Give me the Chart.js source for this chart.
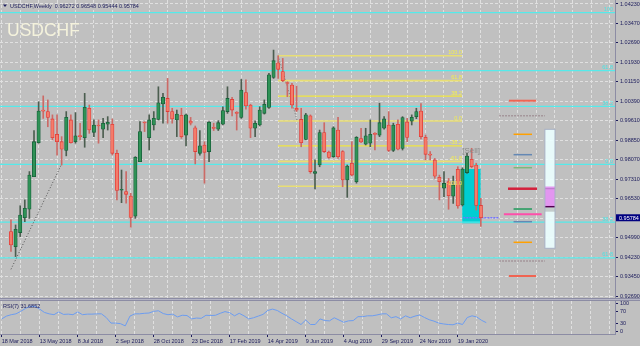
<!DOCTYPE html>
<html>
<head>
<meta charset="utf-8">
<script src="https://cdn.jsdelivr.net/npm/chart.js@4.4.1/dist/chart.umd.min.js"></script>
<style>
  html, body { margin: 0; padding: 0; background: #c0c0c0; }
  #wrap { width: 640px; height: 346px; overflow: hidden; }
  canvas { display: block; }
  .sep { height: 3px; box-sizing: border-box; background: #b4b4c4; border-top: 1px solid #8c8ca4; border-bottom: 1px solid #8c8ca4; }
</style>
</head>
<body>
<div id="wrap">
  <canvas id="price" width="640" height="298"></canvas>
  <div class="sep"></div>
  <canvas id="rsi" width="640" height="45"></canvas>
</div>
<script>
// weekly bars, first one is 18 Mar 2018
const dateLabels = ['18 Mar 2018', '13 May 2018', '8 Jul 2018', '2 Sep 2018', '28 Oct 2018', '23 Dec 2018',
  '17 Feb 2019', '14 Apr 2019', '9 Jun 2019', '4 Aug 2019', '29 Sep 2019', '24 Nov 2019', '19 Jan 2020'];

const opens = [0.9524, 0.9464, 0.9520, 0.9579, 0.9612, 0.9741, 0.9875, 1.0002, 0.9998, 0.9969,
  0.9908, 0.9879, 0.9844, 0.9965, 0.9879, 0.9902, 0.9895, 1.0011, 0.9916, 0.9942,
  0.9928, 0.9948, 0.9948, 0.9833, 0.9687, 0.9682, 0.9664, 0.9585, 0.9800, 0.9956,
  0.9895, 0.9945, 0.9967, 1.0028, 1.0050, 0.9998, 0.9965, 0.9983, 0.9905, 0.9961,
  0.9934, 0.9833, 0.9866, 0.9840, 0.9936, 0.9928, 0.9948, 0.9998, 1.0046, 0.9994,
  0.9975, 1.0073, 1.0024, 0.9932, 0.9945, 0.9991, 1.0014, 1.0133, 1.0191, 1.0156,
  1.0110, 1.0103, 1.0011, 0.9967, 0.9888, 0.9981, 0.9754, 0.9787, 0.9915, 0.9838,
  0.9820, 0.9925, 0.9840, 0.9728, 0.9794, 0.9721, 0.9891, 0.9869, 0.9873, 0.9909,
  0.9905, 0.9932, 0.9945, 0.9844, 0.9948, 0.9852, 0.9957, 0.9960, 0.9978, 1.0000,
  0.9896, 0.9830, 0.9807, 0.9738, 0.9695, 0.9721, 0.9664, 0.9770, 0.9629, 0.9757,
  0.9809, 0.9787, 0.96272];
const highs = [0.9570, 0.9550, 0.9626, 0.9649, 0.9761, 0.9923, 1.0037, 1.0060, 1.0044, 0.9985,
  0.9985, 0.9899, 0.9998, 0.9985, 0.9994, 0.9952, 1.0070, 1.0024, 0.9965, 0.9965,
  0.9971, 0.9978, 0.9969, 0.9846, 0.9767, 0.9761, 0.9675, 0.9820, 0.9958, 0.9958,
  0.9985, 0.9998, 1.0096, 1.0070, 1.0129, 1.0011, 1.0004, 1.0011, 0.9988, 0.9975,
  0.9941, 0.9923, 0.9879, 0.9958, 0.9952, 0.9962, 1.0017, 1.0096, 1.0054, 0.9998,
  1.0125, 1.0123, 1.0027, 0.9961, 1.0017, 1.0044, 1.0149, 1.0241, 1.0218, 1.0208,
  1.0116, 1.0110, 1.0099, 1.0011, 0.9991, 0.9985, 0.9807, 0.9925, 0.9954, 0.9842,
  0.9938, 0.9975, 0.9844, 0.9787, 0.9879, 0.9899, 0.9932, 0.9932, 0.9965, 0.9915,
  1.0031, 0.9978, 0.9998, 0.9952, 0.9965, 0.9978, 0.9971, 0.9985, 1.0011, 1.0030,
  0.9905, 0.9840, 0.9813, 0.9747, 0.9761, 0.9734, 0.9743, 0.9780, 0.9776, 0.9833,
  0.9853, 0.9794, 0.96548];
const lows = [0.9445, 0.9425, 0.9504, 0.9563, 0.9576, 0.9741, 0.9873, 0.9971, 0.9938, 0.9886,
  0.9826, 0.9787, 0.9823, 0.9873, 0.9873, 0.9886, 0.9857, 0.9912, 0.9899, 0.9873,
  0.9895, 0.9925, 0.9826, 0.9649, 0.9638, 0.9636, 0.9541, 0.9576, 0.9800, 0.9919,
  0.9846, 0.9925, 0.9965, 0.9952, 0.9952, 0.9952, 0.9899, 0.9892, 0.9862, 0.9945,
  0.9791, 0.9826, 0.9715, 0.9800, 0.9923, 0.9923, 0.9945, 0.9991, 0.9981, 0.9925,
  0.9971, 1.0007, 0.9895, 0.9899, 0.9941, 0.9988, 1.0010, 1.0129, 1.0129, 1.0116,
  1.0057, 1.0011, 0.9998, 0.9859, 0.9886, 0.9754, 0.9692, 0.9780, 0.9836, 0.9813,
  0.9817, 0.9813, 0.9701, 0.9659, 0.9744, 0.9715, 0.9875, 0.9866, 0.9859, 0.9846,
  0.9899, 0.9928, 0.9840, 0.9840, 0.9846, 0.9846, 0.9879, 0.9945, 0.9970, 0.9890,
  0.9807, 0.9807, 0.9734, 0.9649, 0.9662, 0.9612, 0.9635, 0.9616, 0.9625, 0.9754,
  0.9776, 0.9609, 0.95444];
const closes = [0.9471, 0.9533, 0.9589, 0.9616, 0.9747, 0.9879, 1.0000, 1.0000, 0.9975, 0.9895,
  0.9879, 0.9849, 0.9975, 0.9875, 0.9902, 0.9899, 1.0015, 0.9925, 0.9945, 0.9941,
  0.9952, 0.9956, 0.9833, 0.9686, 0.9688, 0.9671, 0.9580, 0.9817, 0.9919, 0.9953,
  0.9965, 0.9971, 1.0033, 1.0054, 0.9998, 0.9969, 0.9988, 0.9899, 0.9985, 0.9952,
  0.9840, 0.9863, 0.9837, 0.9956, 0.9931, 0.9954, 1.0002, 1.0050, 1.0004, 0.9991,
  1.0083, 1.0020, 0.9932, 0.9952, 1.0004, 1.0027, 1.0143, 1.0199, 1.0165, 1.0120,
  1.0109, 1.0024, 1.0004, 0.9875, 0.9985, 0.9761, 0.9761, 0.9915, 0.9840, 0.9817,
  0.9934, 0.9820, 0.9728, 0.9783, 0.9747, 0.9896, 0.9878, 0.9902, 0.9908, 0.9908,
  0.9954, 0.9969, 0.9844, 0.9945, 0.9849, 0.9974, 0.9896, 0.9975, 0.9998, 0.9899,
  0.9829, 0.9826, 0.9743, 0.9721, 0.9714, 0.9666, 0.9708, 0.9625, 0.9771, 0.9822,
  0.9780, 0.9627, 0.95784];

const rsi7 = [45, 55, 60, 63, 72, 82, 90, 90, 80, 68, 63, 60, 70, 61, 62, 60, 70, 60, 62, 62,
  63, 63, 50, 30, 30, 28, 20, 55, 63, 63, 65, 66, 72, 74, 64, 60, 62, 52, 58, 57,
  45, 48, 47, 58, 57, 58, 65, 71, 67, 56, 65, 56, 45, 49, 55, 61, 75, 80, 75, 65,
  56, 45, 35, 25, 41, 25, 25, 45, 39, 38, 49, 41, 33, 38, 39, 53, 53, 56, 56, 59,
  63, 63, 49, 53, 45, 56, 49, 55, 59, 50, 42, 37, 30, 27, 25, 24, 30, 25, 50, 56,
  52, 40, 31.6852];

const priceTickLabels = ['1.04230', '1.03470', '1.02690', '1.01930', '1.01150', '1.00390', '0.99610', '0.98850',
  '0.98070', '0.97310', '0.96530', '0.95750', '0.94990', '0.94230', '0.93450', '0.92690'];
const rsiTicks = [0, 30, 70, 100];

// fibo expansion (cyan, full width) and fibo retracement (yellow)
const expansionLabels = ['100', '61.8', '38.2', '0.0', '38.2', '61.8'];
const expansionPrices = [1.03886, 1.01598, 1.00185, 0.97897, 0.95609, 0.94196];
const expansionTrend = [0.93748, 0.97908];
const retraceLabels = ['100.0', '61.8', '38.2', '0.0', '-38.2', '-61.8', '-100.0'];
const retracePrices = [1.02187, 1.01201, 1.00593, 0.99607, 0.98621, 0.98013, 0.97027];
const retraceTrend = [1.02187, 0.99647];

// indicator levels drawn right of the last bar
const pivotPrices = [1.00409, 0.99817, 0.99082, 0.98276, 0.97762, 0.96932, 0.96130, 0.95921, 0.95629, 0.94815, 0.94076, 0.93483];
const pivotKinds = ['red', 'dots', 'orange', 'blue', 'pale', 'main', 'green', 'pink', 'blue', 'orange', 'dots', 'red'];
const signalBox = [0.97711, 0.95566];
const panelBox = [0.99279, 0.94578];
const panelZone = [0.97019, 0.96221];
const panelBand = [0.96197, 0.96024];

const weeks = opens.map((_, i) => i);
const last = weeks.length - 1;
const bull = weeks.map(i => closes[i] >= opens[i]);

const NAVY = '#1c1c5c';
const FONT = "'Liberation Sans', Arial, sans-serif";
Chart.defaults.font.family = FONT;
Chart.defaults.font.size = 5.5;
Chart.defaults.color = NAVY;
Chart.defaults.animation = false;

const xMin = -0.36, xMax = 129.1;
const gridWeeks = [];
for (let w = 0; w <= 128; w += 4) gridWeeks.push(w);
const isLabelWeek = v => v % 8 === 0 && v / 8 < dateLabels.length;

const pivotStyle = {
  red: { color: '#f06452', width: 2, from: 108.1, to: 114.0 },
  dots: { color: '#9c8a90', width: 1.5, from: 106.0, to: 115.9, dash: [1.5, 1.5] },
  orange: { color: '#ffa000', width: 1.5, from: 109.1, to: 113.1 },
  blue: { color: '#6488b4', width: 1.5, from: 109.1, to: 113.1 },
  pale: { color: '#7cb87c', width: 1.5, from: 109.1, to: 113.1 },
  main: { color: '#d4203c', width: 2.5, from: 107.9, to: 114.2 },
  green: { color: '#1e9a5a', width: 1.5, from: 109.1, to: 113.1 },
  pink: { color: '#ff4eaa', width: 2, from: 107.0, to: 115.2 },
};

const mtObjects = {
  id: 'mtObjects',
  beforeDatasetsDraw(chart) {
    const { ctx, chartArea: a, scales: { x, y } } = chart;
    const px = v => x.getPixelForValue(v);
    const py = v => y.getPixelForValue(v);
    const seg = (x0, y0, x1, y1, color, width, dash) => {
      ctx.beginPath();
      ctx.setLineDash(dash || []);
      ctx.strokeStyle = color;
      ctx.lineWidth = width;
      ctx.moveTo(x0, y0);
      ctx.lineTo(x1, y1);
      ctx.stroke();
    };
    ctx.save();
    ctx.beginPath();
    ctx.rect(a.left, a.top, a.right - a.left, a.bottom - a.top);
    ctx.clip();

    // signal box under the last bars
    ctx.fillStyle = '#00cdd2';
    ctx.fillRect(px(97.96), py(signalBox[0]), px(101.96) - px(97.96), py(signalBox[1]) - py(signalBox[0]));

    // cyan expansion levels
    expansionPrices.forEach(p => seg(a.left, py(p), a.right, py(p), '#55eaea', 1.2));
    seg(px(0), py(expansionTrend[0]), px(11), py(expansionTrend[1]), '#505050', 1, [1, 2]);

    // yellow retracement
    retracePrices.forEach((p, i) => {
      const strong = i === 2 || i === 4;
      seg(px(57.96), py(p), px(97.9), py(p), strong ? '#f0e640' : '#e8de74', strong ? 1.3 : 1.6);
    });
    seg(px(58), py(retraceTrend[0]), px(62.1), py(retraceTrend[1]), '#707070', 1, [1, 2]);

    // level panel
    pivotPrices.forEach((p, i) => {
      const s = pivotStyle[pivotKinds[i]];
      seg(px(s.from), py(p), px(s.to), py(p), s.color, s.width, s.dash);
    });
    seg(px(98.2), py(closes[last]), px(105.9), py(closes[last]), '#7474ff', 1.5, [2, 1]);

    // range bar
    const bx0 = px(115.9), bx1 = px(118.1);
    ctx.setLineDash([]);
    ctx.fillStyle = 'rgba(236,255,255,0.92)';
    ctx.fillRect(bx0, py(panelBox[0]), bx1 - bx0, py(panelBox[1]) - py(panelBox[0]));
    ctx.fillStyle = '#e296f0';
    ctx.fillRect(bx0, py(panelZone[0]), bx1 - bx0, py(panelZone[1]) - py(panelZone[0]));
    ctx.fillStyle = '#c4cccc';
    ctx.fillRect(bx0, py(panelBand[0]), bx1 - bx0, py(panelBand[1]) - py(panelBand[0]));
    seg(bx0, py(pivotPrices[5]), bx1, py(pivotPrices[5]), '#b878c8', 1);
    seg(bx0, py(panelZone[1]), bx1, py(panelZone[1]), '#500050', 1.5);
    ctx.strokeStyle = '#a8b0c4';
    ctx.lineWidth = 1;
    ctx.strokeRect(bx0, py(panelBox[0]), bx1 - bx0, py(panelBox[1]) - py(panelBox[0]));
    ctx.restore();
  },
  afterDatasetsDraw(chart) {
    const { ctx, chartArea: a, scales: { x, y } } = chart;
    const px = v => x.getPixelForValue(v);
    const py = v => y.getPixelForValue(v);
    ctx.save();
    ctx.font = '5.5px ' + FONT;
    ctx.textAlign = 'right';
    ctx.textBaseline = 'alphabetic';
    ctx.fillStyle = '#f4ee50';
    retracePrices.forEach((p, i) => ctx.fillText(retraceLabels[i], px(97.9), py(p) - 1.5));
    ctx.fillStyle = '#48e4e4';
    expansionPrices.forEach((p, i) => ctx.fillText(expansionLabels[i], a.right - 2, py(p) - 1.5));

    ctx.font = '8px ' + FONT;
    ctx.textAlign = 'center';
    ctx.textBaseline = 'middle';
    ctx.fillStyle = '#8a8a8a';
    ctx.fillText('[Sell]', px(99.9), py(0.98422));

    ctx.font = '17.5px ' + FONT;
    ctx.textAlign = 'left';
    ctx.textBaseline = 'alphabetic';
    ctx.fillStyle = '#f4f2dc';
    ctx.fillText('USDCHF', 7, 36);

    ctx.font = '5.5px ' + FONT;
    ctx.fillStyle = NAVY;
    ctx.fillText('USDCHF,Weekly  ' + [opens[last], highs[last], lows[last], closes[last]].map(v => v.toFixed(5)).join(' '), 10, 7.5);
    ctx.beginPath();
    ctx.moveTo(3, 4.5); ctx.lineTo(7, 4.5); ctx.lineTo(5, 7);
    ctx.closePath();
    ctx.fill();
    ctx.restore();
  },
  afterDraw(chart) {
    const { ctx, chartArea: a, scales: { y } } = chart;
    const yy = y.getPixelForValue(closes[last]);
    ctx.save();
    ctx.fillStyle = '#000080';
    ctx.fillRect(a.right + 1, yy - 3.5, 24, 7);
    ctx.fillStyle = '#ffffff';
    ctx.font = '5.5px ' + FONT;
    ctx.textBaseline = 'middle';
    ctx.fillText(closes[last].toFixed(5), a.right + 4, yy + 0.3);
    ctx.restore();
  }
};

function timeAxis(withLabels) {
  return {
    type: 'linear',
    min: xMin,
    max: xMax,
    afterBuildTicks: s => { s.ticks = gridWeeks.map(v => ({ value: v })); },
    afterFit: s => { s.height = withLabels ? 12 : 0; s.paddingLeft = 0; s.paddingRight = 0; },
    ticks: {
      display: withLabels,
      autoSkip: false,
      maxRotation: 0,
      align: 'start',
      padding: 1,
      color: NAVY,
      callback: v => isLabelWeek(v) ? dateLabels[v / 8] : ''
    },
    grid: {
      color: '#e0e0e0',
      drawTicks: withLabels,
      tickLength: 3,
      tickColor: c => (c.tick && isLabelWeek(c.tick.value)) ? NAVY : 'rgba(0,0,0,0)'
    },
    border: { display: withLabels, color: '#8c8ca4', dash: [3, 2] }
  };
}

new Chart(document.getElementById('price'), {
  data: {
    datasets: [
      {
        type: 'bar',
        label: 'body',
        data: weeks.map(i => ({ x: i, y: [opens[i], closes[i]] })),
        backgroundColor: bull.map(b => b ? '#2f9256' : '#f47c6a'),
        borderColor: bull.map(b => b ? '#17603a' : '#e23c38'),
        borderWidth: 0.8,
        borderSkipped: false,
        barThickness: 3.4,
        minBarLength: 1,
        grouped: false,
        order: 0
      },
      {
        type: 'bar',
        label: 'wick',
        data: weeks.map(i => ({ x: i, y: [lows[i], highs[i]] })),
        backgroundColor: bull.map(b => b ? '#4c5e50' : '#cc6a66'),
        barThickness: 1,
        grouped: false,
        order: 1
      }
    ]
  },
  options: {
    responsive: false,
    layout: { padding: 0 },
    plugins: { legend: { display: false }, tooltip: { enabled: false } },
    scales: {
      x: timeAxis(false),
      y: {
        position: 'right',
        min: 0.92614,
        max: 1.04388,
        afterBuildTicks: s => { s.ticks = priceTickLabels.map(t => ({ value: parseFloat(t) })); },
        afterFit: s => { s.width = 25; s.paddingTop = 0; s.paddingBottom = 0; },
        ticks: { padding: 2, color: NAVY, callback: (v, i) => priceTickLabels[i] },
        grid: { color: '#e0e0e0', tickLength: 3, tickColor: NAVY },
        border: { display: true, color: '#8c8ca4', dash: [3, 2] }
      }
    }
  },
  plugins: [mtObjects]
});

const rsiLabel = {
  id: 'rsiLabel',
  afterDraw(chart) {
    const { ctx, chartArea: a } = chart;
    ctx.save();
    ctx.font = '5.5px ' + FONT;
    ctx.fillStyle = NAVY;
    ctx.textBaseline = 'alphabetic';
    ctx.fillText('RSI(7) ' + rsi7[last].toFixed(4), a.left + 3, a.top + 6.5);
    ctx.restore();
  }
};

new Chart(document.getElementById('rsi'), {
  type: 'line',
  data: {
    datasets: [{
      label: 'RSI(7)',
      data: weeks.map(i => ({ x: i, y: rsi7[i] })),
      borderColor: '#6c9cf0',
      borderWidth: 1,
      pointRadius: 0,
      tension: 0
    }]
  },
  options: {
    responsive: false,
    layout: { padding: 0 },
    plugins: { legend: { display: false }, tooltip: { enabled: false } },
    scales: {
      x: timeAxis(true),
      y: {
        position: 'right',
        min: -8.9,
        max: 108.9,
        afterBuildTicks: s => { s.ticks = rsiTicks.map(v => ({ value: v })); },
        afterFit: s => { s.width = 25; s.paddingTop = 0; s.paddingBottom = 0; },
        ticks: { padding: 2, color: NAVY },
        grid: { drawOnChartArea: false, tickLength: 3, tickColor: NAVY },
        border: { display: true, color: '#8c8ca4' }
      }
    }
  },
  plugins: [rsiLabel]
});
</script>
</body>
</html>
